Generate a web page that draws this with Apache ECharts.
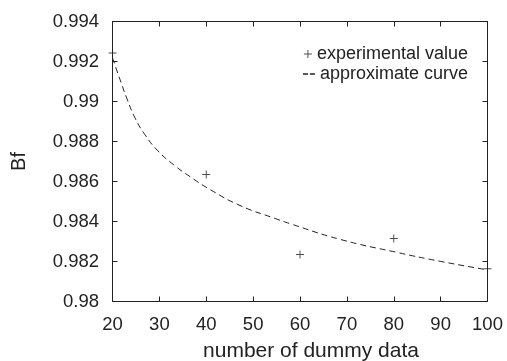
<!DOCTYPE html>
<html>
<head>
<meta charset="utf-8">
<script src="https://cdn.jsdelivr.net/npm/echarts@6/dist/echarts.min.js"></script>
<style>
  html, body { margin: 0; padding: 0; background: #fff; }
  #chart { width: 507px; height: 361px; }
</style>
</head>
<body>
<div id="chart"></div>
<script>
// Measured Bf for each number of dummy data
const sampleCounts = [20, 40, 60, 80, 100];
const measuredBf = [0.99243, 0.98635, 0.98235, 0.98315, 0.98164];

// Fitted approximation curve, sampled along x
const curveX = [20, 21.6, 23.1, 24.8, 26.9, 29.7, 33.3, 36.5, 40.8, 47.2, 54.7, 57.9, 68.5, 80.6, 89.9, 100];
const curveBf = [0.99218, 0.99110, 0.99013, 0.98918, 0.98835, 0.98753, 0.98679, 0.98625,
                 0.98560, 0.98480, 0.98415, 0.98389, 0.98311, 0.98246, 0.98201, 0.98158];

const xTicks = [20, 30, 40, 50, 60, 70, 80, 90, 100];
const yTicks = [0.98, 0.982, 0.984, 0.986, 0.988, 0.99, 0.992, 0.994];

const seriesNames = ['experimental value', 'approximate curve'];

const FONT = '"Liberation Sans", Arial, sans-serif';
const INK = '#222';
const PLUS = 'path://M4.4,0H5.6V10H4.4Z M0,4.4H10V5.6H0Z';
const DASHES = 'path://M0,4.4H4.2V5.6H0Z M5.8,4.4H10V5.6H5.8Z';

const chart = echarts.init(document.getElementById('chart'), null, { renderer: 'canvas' });

const tickStyle = { show: true, inside: true, length: 5, lineStyle: { color: INK, width: 1 } };

chart.setOption({
  animation: false,
  backgroundColor: '#fff',
  textStyle: { fontFamily: FONT, color: INK },
  grid: {
    left: 112.5, right: 19.5, top: 21.5, bottom: 59.5,
    outerBoundsMode: 'none', containLabel: false,
    show: true, borderColor: INK, borderWidth: 1, backgroundColor: 'transparent'
  },
  legend: [
    {
      data: [{ name: seriesNames[0], icon: PLUS }],
      right: 34, top: 40, itemWidth: 8, itemHeight: 8, itemGap: 0,
      textStyle: { fontFamily: FONT, fontSize: 18, color: INK },
      selectedMode: false
    },
    {
      data: [{ name: seriesNames[1], icon: DASHES }],
      right: 34, top: 60, itemWidth: 12, itemHeight: 10, itemGap: 0,
      textStyle: { fontFamily: FONT, fontSize: 18, color: INK },
      selectedMode: false
    }
  ],
  xAxis: [
    {
      type: 'value', min: xTicks[0], max: xTicks[xTicks.length - 1], interval: 10,
      name: 'number of dummy data', nameLocation: 'middle', nameGap: 39.5,
      nameTextStyle: { fontFamily: FONT, fontSize: 21, color: INK, padding: [0, 0, 0, 22] },
      axisLine: { show: true, onZero: false, lineStyle: { color: INK } },
      axisTick: tickStyle,
      axisLabel: { fontFamily: FONT, fontSize: 18.5, color: INK, margin: 14 },
      splitLine: { show: false }
    },
    {
      type: 'value', position: 'top', min: xTicks[0], max: xTicks[xTicks.length - 1], interval: 10,
      axisLine: { show: true, onZero: false, lineStyle: { color: INK } },
      axisTick: tickStyle, axisLabel: { show: false }, splitLine: { show: false }
    }
  ],
  yAxis: [
    {
      type: 'value', min: yTicks[0], max: yTicks[yTicks.length - 1], interval: 0.002,
      name: 'Bf', nameLocation: 'middle', nameGap: 83.5, nameRotate: 90,
      nameTextStyle: { fontFamily: FONT, fontSize: 20, color: INK },
      axisLine: { show: true, onZero: false, lineStyle: { color: INK } },
      axisTick: tickStyle,
      axisLabel: {
        fontFamily: FONT, fontSize: 18.5, color: INK, margin: 13.5,
        formatter: v => String(parseFloat(v.toFixed(3)))
      },
      splitLine: { show: false }
    },
    {
      type: 'value', position: 'right', min: yTicks[0], max: yTicks[yTicks.length - 1], interval: 0.002,
      axisLine: { show: true, onZero: false, lineStyle: { color: INK } },
      axisTick: tickStyle, axisLabel: { show: false }, splitLine: { show: false }
    }
  ],
  series: [
    {
      name: seriesNames[0],
      type: 'scatter',
      data: sampleCounts.map((x, i) => [x, measuredBf[i]]),
      symbol: PLUS, symbolSize: 8,
      itemStyle: { color: INK },
      clip: false, z: 3
    },
    {
      name: seriesNames[1],
      type: 'line',
      data: curveX.map((x, i) => [x, curveBf[i]]),
      smooth: 0.5, showSymbol: false, symbol: 'none',
      lineStyle: { color: INK, width: 1, type: [6, 4] },
      itemStyle: { color: INK },
      z: 2
    }
  ]
});
</script>
</body>
</html>
